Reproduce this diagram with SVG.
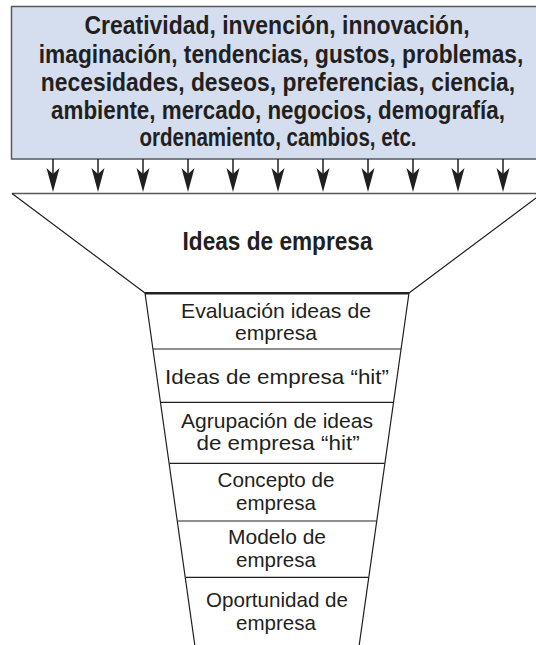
<svg xmlns="http://www.w3.org/2000/svg" width="536" height="645" viewBox="0 0 536 645">
<style>
.bt{font-family:"Liberation Sans",Arial,sans-serif;font-weight:bold;font-size:26px;fill:#231f20;text-anchor:middle}
.rt{font-family:"Liberation Sans",Arial,sans-serif;font-size:20px;fill:#231f20;text-anchor:middle}
.arr{stroke:#231f20;stroke-width:1.5;fill:none}
.ah{fill:#231f20;stroke:none}
.div{stroke:#231f20;stroke-width:1.2;fill:none}
</style>
<defs>
<path id="head" class="ah" d="M0,192 L-6.5,168 L0,174 L6.5,168 Z"/>
</defs>
<rect width="536" height="645" fill="#ffffff"/>
<g id="sources">
<rect x="11.5" y="6.5" width="545" height="152.5" fill="#d5deef" stroke="#58595b" stroke-width="1.5"/>
<text class="bt" transform="translate(277,34) scale(0.85,1)" textLength="453" lengthAdjust="spacingAndGlyphs">Creatividad, invención, innovación,</text>
<text class="bt" transform="translate(281,62.5) scale(0.85,1)" textLength="570" lengthAdjust="spacingAndGlyphs">imaginación, tendencias, gustos, problemas,</text>
<text class="bt" transform="translate(278,90.5) scale(0.85,1)" textLength="558" lengthAdjust="spacingAndGlyphs">necesidades, deseos, preferencias, ciencia,</text>
<text class="bt" transform="translate(278,118.5) scale(0.85,1)" textLength="534" lengthAdjust="spacingAndGlyphs">ambiente, mercado, negocios, demografía,</text>
<text class="bt" transform="translate(278,146) scale(0.85,1)" textLength="326" lengthAdjust="spacingAndGlyphs">ordenamiento, cambios, etc.</text>
</g>
<g id="connectors">
<path class="arr" d="M53,159 V176 M98,159 V176 M143,159 V176 M188,159 V176 M233,159 V176 M278,159 V176 M323,159 V176 M368,159 V176 M413,159 V176 M458,159 V176 M503,159 V176"/>
<use href="#head" x="53"/>
<use href="#head" x="98"/>
<use href="#head" x="143"/>
<use href="#head" x="188"/>
<use href="#head" x="233"/>
<use href="#head" x="278"/>
<use href="#head" x="323"/>
<use href="#head" x="368"/>
<use href="#head" x="413"/>
<use href="#head" x="458"/>
<use href="#head" x="503"/>
</g>
<g id="ideas">
<path d="M12,193.5 H545" stroke="#58595b" stroke-width="1.5" fill="none"/>
<path d="M12,193.5 L145,293 M409,293 L542,193.5" stroke="#231f20" stroke-width="1.2" fill="none"/>
<text class="bt" transform="translate(277.5,249.5) scale(0.85,1)" textLength="223.5" lengthAdjust="spacingAndGlyphs">Ideas de empresa</text>
</g>
<g id="funnel">
<path d="M145,293 L195.5,650 M409,293 L358.5,650" stroke="#231f20" stroke-width="1.2" fill="none"/>
<path d="M145,293.3 H409" stroke="#231f20" stroke-width="2.6" fill="none"/>
</g>
<g id="evaluacion">
<text class="rt" transform="translate(276,317.5) scale(0.85,1)" textLength="223.5" lengthAdjust="spacingAndGlyphs">Evaluación ideas de</text>
<text class="rt" transform="translate(276,339.5) scale(0.85,1)" textLength="96.5" lengthAdjust="spacingAndGlyphs">empresa</text>
<path class="div" d="M153,349 H401"/>
</g>
<g id="hit">
<text class="rt" transform="translate(277,383.5) scale(0.85,1)" textLength="263.5" lengthAdjust="spacingAndGlyphs">Ideas de empresa “hit”</text>
<path class="div" d="M160.6,402.3 H393.4"/>
</g>
<g id="agrupacion">
<text class="rt" transform="translate(277,427.7) scale(0.85,1)" textLength="226" lengthAdjust="spacingAndGlyphs">Agrupación de ideas</text>
<text class="rt" transform="translate(278,450) scale(0.85,1)" textLength="192" lengthAdjust="spacingAndGlyphs">de empresa “hit”</text>
<path class="div" d="M169.4,463.3 H384.6"/>
</g>
<g id="concepto">
<text class="rt" transform="translate(276,487.3) scale(0.85,1)" textLength="137.6" lengthAdjust="spacingAndGlyphs">Concepto de</text>
<text class="rt" transform="translate(276,510) scale(0.85,1)" textLength="94" lengthAdjust="spacingAndGlyphs">empresa</text>
<path class="div" d="M177.7,521 H376.3"/>
</g>
<g id="modelo">
<text class="rt" transform="translate(277,544) scale(0.85,1)" textLength="115.3" lengthAdjust="spacingAndGlyphs">Modelo de</text>
<text class="rt" transform="translate(276,567.3) scale(0.85,1)" textLength="94" lengthAdjust="spacingAndGlyphs">empresa</text>
<path class="div" d="M185.8,577.3 H368.2"/>
</g>
<g id="oportunidad">
<text class="rt" transform="translate(277,606.7) scale(0.85,1)" textLength="167" lengthAdjust="spacingAndGlyphs">Oportunidad de</text>
<text class="rt" transform="translate(276,630) scale(0.85,1)" textLength="94" lengthAdjust="spacingAndGlyphs">empresa</text>
</g>
</svg>
